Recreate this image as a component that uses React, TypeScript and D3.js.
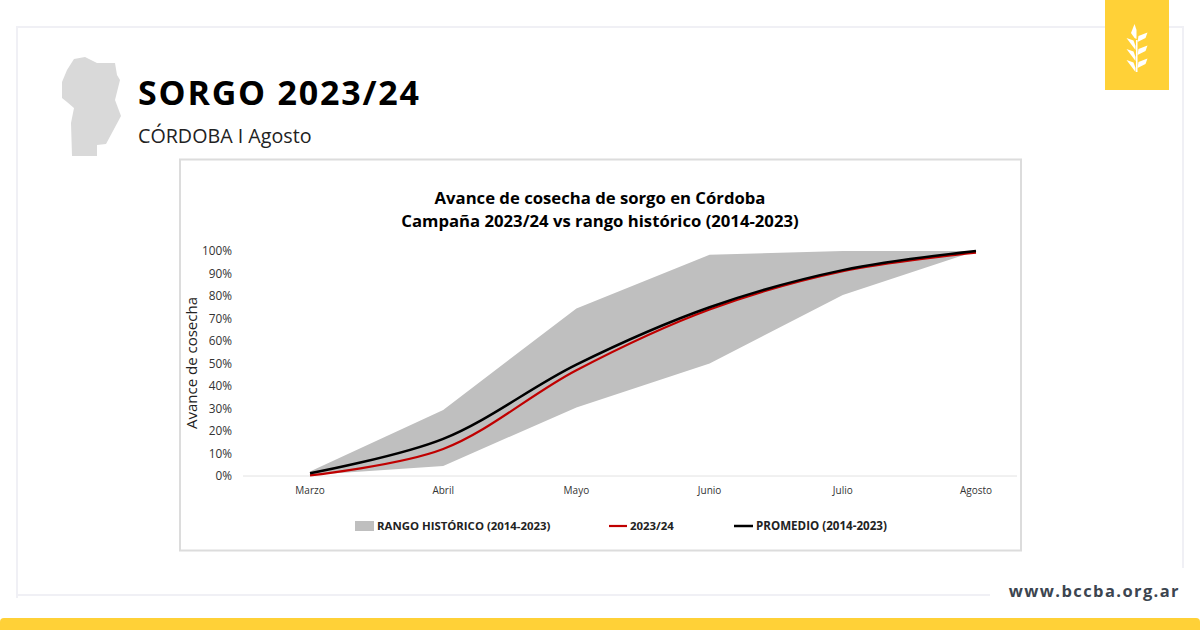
import React from 'react';
import * as d3 from 'd3';

const months = ['Marzo', 'Abril', 'Mayo', 'Junio', 'Julio', 'Agosto'];
const rangeLow = [0.5, 4.5, 30.5, 50, 80.5, 100];
const rangeHigh = [2, 29.3, 74.5, 98.3, 100, 100];
const campaign = [0.3, 12, 47, 74, 91, 99.3];
const average = [1.2, 16.5, 49.5, 75, 91.5, 100];
const yTicks = [0, 10, 20, 30, 40, 50, 60, 70, 80, 90, 100];

const FONT = '"Open Sans", sans-serif';

const x = d3.scalePoint<string>().domain(months).range([310, 976]);
const y = d3.scaleLinear().domain([0, 100]).range([476, 251]);

const area = d3.area<number>()
  .x((d, i) => x(months[i]) as number)
  .y0((d, i) => y(rangeLow[i]))
  .y1(d => y(d));

const line = d3.line<number>()
  .x((d, i) => x(months[i]) as number)
  .y(d => y(d))
  .curve(d3.curveCatmullRom.alpha(0.5));

// silueta de la provincia
const mapPath = 'M74 59L85 57L97 63L115 63L117 75L120 80L115 100L121 116L106 144L97 145L97 156L72 156L71 123L74 108L67 102L62 98L62 82L67 70Z';
// hojas de la espiga
const leafRight = 'M0 0L1 -6L10 -9.5L8 -4Z';
const leafLeft = 'M0 0L-9 -12L-2 -9.5L0 -4Z';

const App = () => {
  return (
    <svg width={1200} height={630} style={{ position: 'fixed', left: 0, top: 0, background: '#fff' }}>
      {/* marco */}
      <path d="M17 598V27H1183V568" fill="none" stroke="#f0f0f5" strokeWidth={2} />
      <line x1={17} x2={990} y1={595} y2={595} stroke="#f0f0f5" strokeWidth={2} />
      <rect x={0} y={618} width={1200} height={20} rx={4} fill="#ffd137" />

      {/* badge */}
      <rect x={1105} y={0} width={64} height={90} fill="#ffd137" />
      <g fill="#fff">
        <rect x={1136} y={40} width={1.5} height={32} />
        <path d="M1134.5 24L1136.5 30V39L1134.5 38L1131 33Z" />
        {[42, 55, 68].map(cy => (
          <path key={cy} d={leafRight} transform={`translate(1137.5 ${cy})`} />
        ))}
        {[50, 61, 72].map(cy => (
          <path key={cy} d={leafLeft} transform={`translate(1135.5 ${cy})`} />
        ))}
      </g>

      {/* encabezado */}
      <path d={mapPath} fill="#d9d9d9" />
      <text x={138} y={105} fontFamily={FONT} fontWeight={700} fontSize={34} letterSpacing={1.8} fill="#000">SORGO 2023/24</text>
      <text x={138} y={143} fontFamily={FONT} fontSize={19.7} fill="#222">CÓRDOBA I Agosto</text>
      <text x={1180} y={597} textAnchor="end" fontFamily={FONT} fontWeight={700} fontSize={16.5} letterSpacing={1.4} fill="#3c4550">www.bccba.org.ar</text>

      {/* caja del grafico */}
      <rect x={180} y={159.5} width={841} height={391} fill="#fff" stroke="#dcdcdc" strokeWidth={2} />
      <g fontFamily={FONT} fontWeight={700} fontSize={16.7} fill="#000" textAnchor="middle">
        <text x={600} y={204}>Avance de cosecha de sorgo en Córdoba</text>
        <text x={600} y={227}>Campaña 2023/24 vs rango histórico (2014-2023)</text>
      </g>

      {yTicks.map(t => (
        <text key={t} x={232} y={y(t) + 4} textAnchor="end" fontFamily={FONT} fontSize={11.8} fill="#333">{t}%</text>
      ))}
      <text transform="translate(197 363) rotate(-90)" textAnchor="middle" fontFamily={FONT} fontSize={15} fill="#222">Avance de cosecha</text>

      <line x1={243} x2={1017} y1={y(0)} y2={y(0)} stroke="#e2e2e2" strokeWidth={1} />
      {months.map(m => (
        <text key={m} x={x(m)} y={494} textAnchor="middle" fontFamily={FONT} fontSize={10} fill="#333">{m}</text>
      ))}

      <path d={area(rangeHigh) as string} fill="#bfbfbf" />
      <path d={line(campaign) as string} fill="none" stroke="#c00000" strokeWidth={2.2} />
      <path d={line(average) as string} fill="none" stroke="#000" strokeWidth={2.5} />

      {/* leyenda */}
      <g fontFamily={FONT} fontWeight={700} fontSize={11.4} fill="#222">
        <rect x={355} y={521} width={19} height={10} fill="#bfbfbf" />
        <text x={377} y={530}>RANGO HISTÓRICO (2014-2023)</text>
        <line x1={609} x2={627} y1={526} y2={526} stroke="#c00000" strokeWidth={2.2} />
        <text x={630} y={530}>2023/24</text>
        <line x1={734} x2={753} y1={526} y2={526} stroke="#000" strokeWidth={2.5} />
        <text x={756} y={530} fontSize={11.6}>PROMEDIO (2014-2023)</text>
      </g>
    </svg>
  );
};

export default App;
